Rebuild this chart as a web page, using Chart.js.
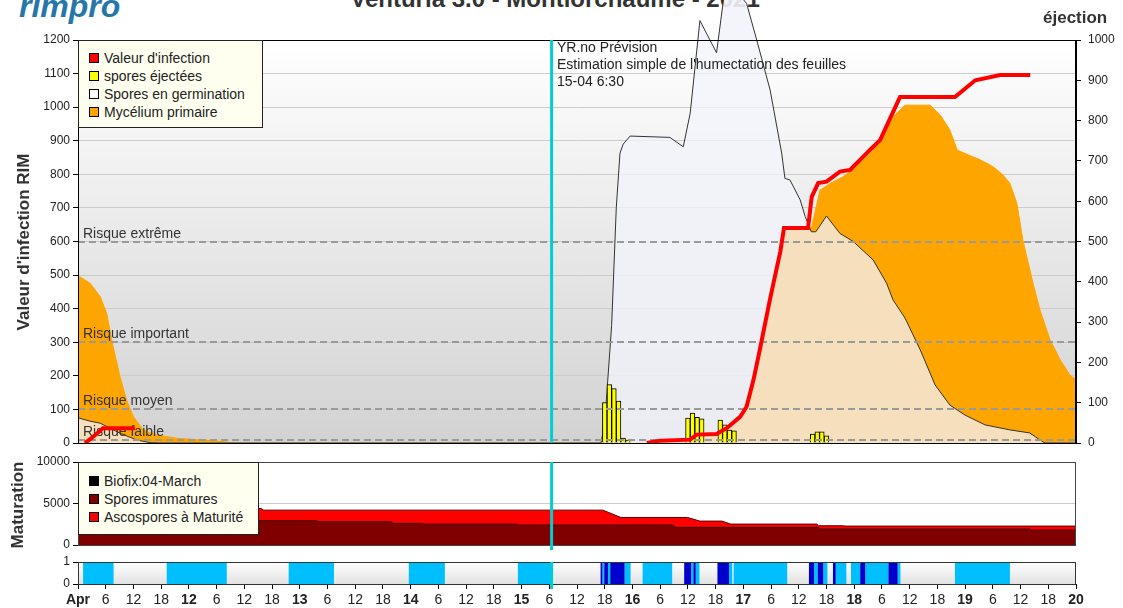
<!DOCTYPE html>
<html><head><meta charset="utf-8">
<script src="https://cdn.jsdelivr.net/npm/chart.js@4.4.1/dist/chart.umd.min.js"></script>
<style>
body{margin:0;background:#fff;width:1123px;height:608px;overflow:hidden;position:relative;font-family:Arial,"Liberation Sans",sans-serif;}
canvas{position:absolute;left:0;}
.abs{position:absolute;white-space:nowrap;}
.box{position:absolute;background:#FFFFF0;border:1px solid #222;box-sizing:border-box;z-index:5;}
.it{position:absolute;left:25px;font-size:14px;color:#222;line-height:18px;white-space:nowrap;}
.sq{position:absolute;left:-15px;top:4px;width:10px;height:10px;border:1px solid #000;box-sizing:border-box;}
</style></head>
<body>
<div class="abs" style="left:555px;top:-13px;transform:translateX(-50%);font-size:24px;line-height:24px;font-weight:bold;color:#333;">Venturia 3.0 - Montlorchaume - 2021</div>
<div class="abs" style="left:19px;top:-10px;font-size:32px;line-height:32px;font-weight:bold;font-style:italic;color:#2577a8;">rimpro</div>
<canvas id="cMain" width="1123" height="458" style="top:0"></canvas>
<canvas id="cMat" width="1123" height="105" style="top:451px"></canvas>
<canvas id="cWet" width="1123" height="57" style="top:551px"></canvas>
<div class="abs" style="left:1043px;top:9px;font-size:17px;line-height:17px;font-weight:bold;color:#333;z-index:5;">éjection</div>
<div class="abs" style="left:-126px;top:232px;width:300px;text-align:center;font-size:17px;line-height:20px;font-weight:bold;color:#333;transform:rotate(-90deg);z-index:5;">Valeur d'infection RIM</div>
<div class="abs" style="left:-132px;top:495px;width:300px;text-align:center;font-size:17px;line-height:20px;font-weight:bold;color:#333;transform:rotate(-90deg);z-index:5;">Maturation</div>
<div class="abs" style="left:557px;top:39px;font-size:14px;line-height:17.2px;color:#222;z-index:5;">YR.no Prévision<br>Estimation simple de l'humectation des feuilles<br>15-04 6:30</div>
<div class="box" style="left:78px;top:40px;width:185px;height:88px;">
  <div class="it" style="top:8px"><span class="sq" style="background:#ff0000"></span>Valeur d'infection</div>
  <div class="it" style="top:26px"><span class="sq" style="background:#ffff00"></span>spores éjectées</div>
  <div class="it" style="top:44px"><span class="sq" style="background:#ffffff"></span>Spores en germination</div>
  <div class="it" style="top:62px"><span class="sq" style="background:#ffa500"></span>Mycélium primaire</div>
</div>
<div class="box" style="left:78px;top:462px;width:181px;height:73px;">
  <div class="it" style="top:9px"><span class="sq" style="background:#000000"></span>Biofix:04-March</div>
  <div class="it" style="top:27px"><span class="sq" style="background:#800000"></span>Spores immatures</div>
  <div class="it" style="top:45px"><span class="sq" style="background:#ff0000"></span>Ascospores à Maturité</div>
</div>
<script>
// ---- data (x = hours since 11 April 00:00) ----
const X_MAX = 216;
const NOW_H = 102.5;
const dayLabels = ['Apr','12','13','14','15','16','17','18','19','20'];

const valeurInfection = [[1.5,0],[3,15],[5.4,44],[12.3,44],[12.5,null],[123.1,0],[126,7],[132.5,10],[133.9,25],[138.2,27],[140.4,44],[143.3,78],[144.7,108],[146.2,188],[147.6,280],[149.8,430],[152,570],[152.8,640],[158,640],[158.8,733],[160.2,774],[162,778],[164.9,808],[167.1,813],[171.4,873],[173.6,902],[177.9,1030],[189.8,1030],[194.2,1080],[199.6,1096],[206.1,1096]];

const sporesEjectees = [[114,100],[115,145],[116,135],[117,104],[118,12],[119,7],[132,62],[133,74],[134,64],[135,60],[139,57],[140,45],[141,32],[142,30],[159,22],[160,28],[161,28],[162,18]];

const sporesGermination = [[0,75],[2.6,65],[4.8,59],[9.1,29],[12.7,9],[15.6,1],[17.7,0],[113.2,0],[114,60],[115.5,350],[116.5,700],[117.3,863],[118,890],[119.5,914],[128.1,910],[131,882],[132.5,982],[134.6,1258],[138.2,1162],[139.7,1319],[142.2,1350],[144.7,1309],[146.9,1200],[149.8,1051],[152.3,863],[153,788],[154.1,783],[156.3,724],[157.4,674],[158.7,629],[159.7,629],[162,676],[164.9,624],[167.8,600],[172.1,545],[175,476],[176.4,426],[179,372],[182.3,277],[185.5,173],[188.7,113],[192,83],[196.3,54],[201.7,39],[206,30],[208.2,9],[209.3,0],[216,0]];

const myceliumPrimaire = [[0,495],[0.4,495],[2.6,476],[4.8,436],[6.2,386],[7.6,287],[9.1,197],[10.5,128],[12,78],[14.1,39],[17,24],[21.4,14],[27,9],[31.4,4],[34,0],[123.8,0],[128,5],[134.6,15],[139,30],[143.3,70],[146.1,185],[147.6,270],[149.8,420],[152,570],[153,630],[158,635],[158.8,644],[160.6,753],[162.8,773],[165.6,793],[168.5,823],[172.1,872],[173.6,902],[176.8,977],[179,1006],[184.4,1006],[186.6,977],[188.7,932],[190.3,872],[191,868],[192,862],[193.7,852],[195,845],[196,838],[197.4,828],[198.5,818],[200.2,798],[201.7,773],[203.2,714],[204.5,604],[206.7,476],[208.2,396],[210.4,307],[212.6,247],[214.7,202],[216,188]];

const niveauxRisque = [[600,'Risque extrême'],[300,'Risque important'],[100,'Risque moyen'],[10,'Risque faible']];

const ascosporesMaturite = [[0,4400],[39.6,4400],[40.2,4200],[113.6,4200],[117.5,3320],[131.9,3320],[134.6,2880],[139.3,2880],[141.3,2520],[159.9,2520],[160.3,2320],[165.7,2320],[166,2280],[216,2280]];
const sporesImmatures = [[0,2920],[51.7,2920],[51.9,2800],[67.9,2800],[68.1,2600],[74.4,2600],[74.6,2520],[94.9,2520],[95.1,2400],[128.8,2400],[129.2,2120],[160.3,2120],[160.6,1920],[206,1920],[206.3,1800],[216,1800]];

const humectationClaire = [[1.1,7.7],[19.2,32.2],[45.6,55.4],[71.6,79.4],[95.2,102.8],[113.5,113.9],[114.7,115.2],[118.3,119.6],[122.2,128.6],[132.7,133.2],[133.7,134.5],[140.9,141.6],[141.9,153.5],[159.3,160.1],[161.3,162.2],[164,166.3],[167.3,169.3],[170.4,175.4],[177.4,178],[189.8,201.7]];
const humectationFoncee = [[113.1,113.5],[113.9,114.7],[115.2,118.3],[131.2,132.7],[133.2,133.7],[138.4,140.9],[158.2,159.3],[160.1,161.3],[163.4,164],[169.3,170.4],[175.4,177.4]];

// ---- helpers ----
const FONT = 'Arial, "Liberation Sans", sans-serif';
Chart.defaults.font.family = FONT;
const toXY = a => a.map(p => ({x:p[0], y:p[1]}));
function intervalsToXY(iv){
  const out=[{x:0,y:0}];
  iv.forEach(([s,e])=>{out.push({x:s,y:0},{x:s,y:1},{x:e,y:1},{x:e,y:0});});
  out.push({x:X_MAX,y:0});
  return out;
}
const bgPlugin = {id:'bg', beforeDraw(chart, args, o){
  const {ctx, chartArea:a} = chart; if(!o || !o.top) return;
  const g = ctx.createLinearGradient(0,a.top,0,a.bottom);
  g.addColorStop(0,o.top); g.addColorStop(1,o.bottom);
  ctx.save(); ctx.fillStyle=g; ctx.fillRect(a.left,a.top,a.right-a.left,a.bottom-a.top); ctx.restore();
}};
const framePlugin = {id:'frame', afterDraw(chart, args, o){
  const {ctx, chartArea:a} = chart;
  ctx.save(); ctx.strokeStyle = (o && o.color) || '#000'; ctx.lineWidth=1;
  ctx.strokeRect(Math.round(a.left)+0.5, Math.round(a.top)+0.5, Math.round(a.right-a.left)-1, Math.round(a.bottom-a.top));
  const x = chart.scales.x.getPixelForValue(NOW_H);
  ctx.strokeStyle='#00CED1'; ctx.lineWidth=3;
  ctx.beginPath(); ctx.moveTo(x,a.top); ctx.lineTo(x,a.bottom + ((o && o.ext)||0)); ctx.stroke();
  ctx.restore();
}};
function yTicks(step, pad){ return {stepSize:step, color:'#222', font:{size:12, family:FONT}, padding:pad, callback:(v)=>String(v)}; }
const baseX = {type:'linear', min:0, max:X_MAX, offset:false, display:false};

// ---- main chart ----
const germPlugin = {id:'germ',
  beforeDatasetDraw(chart, args){
    if(chart.data.datasets[args.index].label!=='Spores en germination') return;
    const {ctx, chartArea:a} = chart; const pts = args.meta.data; if(!pts.length) return;
    ctx.save(); ctx.beginPath(); ctx.rect(a.left,0,a.right-a.left,a.top); ctx.clip();
    ctx.beginPath(); ctx.moveTo(pts[0].x,a.bottom);
    pts.forEach(p=>ctx.lineTo(p.x,p.y)); ctx.lineTo(pts[pts.length-1].x,a.bottom); ctx.closePath();
    ctx.fillStyle='rgba(243,243,252,0.9)'; ctx.fill(); ctx.restore();
  },
  afterDatasetDraw(chart, args){
    if(chart.data.datasets[args.index].label!=='spores éjectées') return;
    const {ctx, chartArea:a} = chart; const ys = chart.scales.y;
    ctx.save();
    niveauxRisque.forEach(([v,t])=>{
      const y = Math.round(ys.getPixelForValue(v));
      ctx.strokeStyle='#9a9a9a'; ctx.lineWidth=2; ctx.setLineDash([7,4]);
      ctx.beginPath(); ctx.moveTo(a.left,y); ctx.lineTo(a.right,y); ctx.stroke();
      ctx.setLineDash([]); ctx.fillStyle='#333'; ctx.font='14px '+FONT; ctx.textBaseline='alphabetic';
      ctx.fillText(t, a.left+5, y-4);
    });
    ctx.restore();
  }
};
new Chart(document.getElementById('cMain'), {
  type:'line',
  data:{datasets:[
    {type:'line', label:"Valeur d'infection", data:toXY(valeurInfection), borderColor:'#ff0000', borderWidth:4, pointRadius:0, fill:false, order:0, yAxisID:'y', spanGaps:false, tension:0},
    {type:'bar', label:'spores éjectées', data:toXY(sporesEjectees), backgroundColor:'#ffff00', borderColor:'#000', borderWidth:1, barPercentage:1, categoryPercentage:1, order:1, yAxisID:'y2'},
    {type:'line', label:'Spores en germination', data:toXY(sporesGermination), borderColor:'#333', borderWidth:1, backgroundColor:'rgba(243,243,252,0.75)', fill:'origin', pointRadius:0, order:2, yAxisID:'y', clip:false, tension:0},
    {type:'line', label:'Mycélium primaire', data:toXY(myceliumPrimaire), borderColor:'#ffa500', borderWidth:1, backgroundColor:'#ffa500', fill:'origin', pointRadius:0, order:3, yAxisID:'y', tension:0}
  ]},
  options:{responsive:false, animation:false, events:[],
    layout:{padding:{top:40,bottom:15,left:0,right:0}},
    plugins:{legend:{display:false}, tooltip:{enabled:false}, title:{display:false}, bg:{top:'#ffffff',bottom:'#d2d2d2'}, frame:{color:'#000', ext:0}},
    scales:{
      x: baseX,
      y:{min:0,max:1200, ticks:yTicks(100,3), grid:{color:'#cccccc', tickColor:'#000', tickLength:5}, border:{color:'#000'}, afterFit(s){s.width=78;}},
      y2:{position:'right', min:0,max:1000, ticks:yTicks(100,7), grid:{drawOnChartArea:false, tickColor:'#000', tickLength:5}, border:{color:'#000'}, afterFit(s){s.width=47;}}
    }
  },
  plugins:[bgPlugin, germPlugin, framePlugin]
});

// ---- maturation chart ----
new Chart(document.getElementById('cMat'), {
  type:'line',
  data:{datasets:[
    {label:'Ascospores à Maturité', data:toXY(ascosporesMaturite), backgroundColor:'#ff0000', borderColor:'#5a0000', borderWidth:1, fill:'origin', pointRadius:0, order:1, tension:0},
    {label:'Spores immatures', data:toXY(sporesImmatures), backgroundColor:'#800000', borderColor:'#3a0000', borderWidth:1, fill:'origin', pointRadius:0, order:0, tension:0}
  ]},
  options:{responsive:false, animation:false, events:[],
    layout:{padding:{top:11,bottom:11,left:0,right:47}},
    plugins:{legend:{display:false}, tooltip:{enabled:false}, frame:{color:'#444', ext:5}},
    scales:{
      x: baseX,
      y:{min:0,max:10000, ticks:yTicks(5000,3), grid:{color:'#cccccc', tickColor:'#000', tickLength:5}, border:{color:'#000'}, afterFit(s){s.width=78;}}
    }
  },
  plugins:[framePlugin]
});

// ---- leaf wetness chart ----
new Chart(document.getElementById('cWet'), {
  type:'line',
  data:{datasets:[
    {label:'humectation', data:intervalsToXY(humectationClaire), backgroundColor:'#00BFFF', borderColor:'rgba(0,0,0,0)', borderWidth:1, fill:'origin', pointRadius:0, order:1, tension:0},
    {label:'humectation forte', data:intervalsToXY(humectationFoncee), backgroundColor:'#0000CD', borderColor:'rgba(0,0,0,0)', borderWidth:1, fill:'origin', pointRadius:0, order:0, tension:0}
  ]},
  options:{responsive:false, animation:false, events:[],
    layout:{padding:{top:11,bottom:0,left:0,right:47}},
    plugins:{legend:{display:false}, tooltip:{enabled:false}, bg:{top:'#ffffff',bottom:'#e2e2e2'}, frame:{color:'#333', ext:5}},
    scales:{
      x:{type:'linear', min:0, max:X_MAX, offset:false,
         ticks:{stepSize:6, autoSkip:false, maxRotation:0, minRotation:0, padding:3, color:'#222',
           font:(c)=>({family:FONT, size:14, weight:(c.tick && c.tick.value % 24 === 0) ? 'bold' : 'normal'}),
           callback:(v)=> (v % 24 === 0) ? dayLabels[v/24] : String(v % 24)},
         grid:{drawOnChartArea:false, tickColor:'#000', tickLength:5}, border:{color:'#000'},
         afterFit(s){s.height=24;}},
      y:{min:0,max:1, ticks:yTicks(1,3), grid:{drawOnChartArea:false, tickColor:'#000', tickLength:5}, border:{color:'#000'}, afterFit(s){s.width=78;}}
    }
  },
  plugins:[bgPlugin, framePlugin]
});
</script>
</body></html>
